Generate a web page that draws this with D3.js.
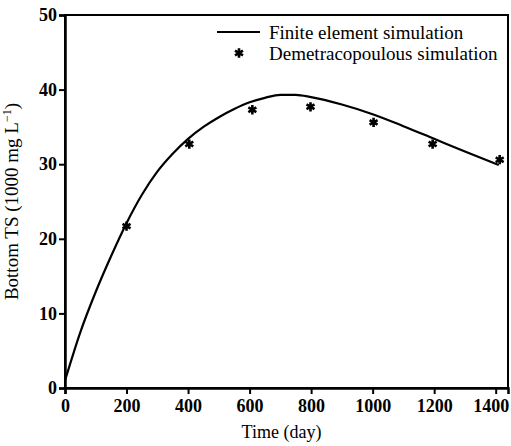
<!DOCTYPE html>
<html>
<head>
<meta charset="utf-8">
<script src="https://cdn.jsdelivr.net/npm/d3@7"></script>
<style>
  body { margin: 0; background: #fff; }
  text { font-family: "Liberation Serif", "Times New Roman", serif; fill: #000; }
</style>
</head>
<body>
<svg id="chart"></svg>
<script>
// Finite element curve (day, TS)
const feDays = [0, 50, 100, 150, 200, 250, 300, 350, 400, 450, 500, 550, 600, 650, 700, 750, 800, 900, 1000, 1100, 1200, 1300, 1410];
const feValues = [1.0, 7.5, 12.9, 17.7, 22.1, 25.9, 29.0, 31.4, 33.4, 35.0, 36.3, 37.4, 38.3, 38.9, 39.3, 39.3, 39.0, 38.0, 36.7, 35.1, 33.4, 31.7, 29.9];

// Demetracopoulous points
const demDays = [200, 404, 609, 798, 1003, 1195, 1413];
const demValues = [21.7, 32.7, 37.3, 37.7, 35.6, 32.7, 30.6];

const xTicks = [0, 200, 400, 600, 800, 1000, 1200, 1400];
const yTicks = [0, 10, 20, 30, 40, 50];

const W = 511, H = 446;
let margin = {top: 15, right: 3, bottom: 58, left: 65},
    width = W - margin.left - margin.right,
    height = H - margin.top - margin.bottom;

let svg = d3.select("#chart")
    .attr("width", W)
    .attr("height", H)
  .append("g")
    .attr("transform", "translate(" + margin.left + "," + margin.top + ")");

let x = d3.scaleLinear().domain([0, 1440]).range([0, width]);
let y = d3.scaleLinear().domain([0, 50]).range([height, 0]);

// frame
svg.append("rect")
    .attr("width", width).attr("height", height)
    .attr("fill", "none").attr("stroke", "#000").attr("stroke-width", 2);

// x axis
let xAxis = svg.append("g")
    .attr("transform", "translate(0," + height + ")")
    .call(d3.axisBottom(x).tickValues(xTicks).tickFormat(d3.format("d")).tickSize(6).tickPadding(5));
// y axis
let yAxis = svg.append("g")
    .call(d3.axisLeft(y).tickValues(yTicks).tickFormat(d3.format("d")).tickSize(6).tickPadding(2));

[xAxis, yAxis].forEach(function(a) {
  a.select(".domain").attr("stroke-width", 2.5);
  a.selectAll(".tick line").attr("stroke-width", 2);
  a.selectAll(".tick text")
    .style("font-family", "'Liberation Serif', serif")
    .style("font-size", "18px")
    .style("font-weight", "bold");
});
// keep the last label inside the picture
xAxis.selectAll(".tick text").filter(function(d) { return d === 1400; })
    .attr("dx", "-5");

// curve
let fe = feDays.map(function(d, i) { return {day: d, v: feValues[i]}; });
let line = d3.line()
    .x(function(d) { return x(d.day); })
    .y(function(d) { return y(d.v); })
    .curve(d3.curveMonotoneX);

svg.append("path")
    .datum(fe)
    .attr("d", line)
    .attr("fill", "none")
    .attr("stroke", "#000")
    .attr("stroke-width", 2.2);

// points
let star = d3.symbol().type(d3.symbolAsterisk).size(60);
svg.selectAll(".pt")
    .data(demDays.map(function(d, i) { return {day: d, v: demValues[i]}; }))
  .enter().append("path")
    .attr("class", "pt")
    .attr("transform", function(d) { return "translate(" + x(d.day) + "," + y(d.v) + ")"; })
    .attr("d", star)
    .attr("fill", "none")
    .attr("stroke", "#000")
    .attr("stroke-width", 2.6);

// legend
let lg = svg.append("g").attr("transform", "translate(152,17)");
lg.append("line").attr("x1", 0).attr("x2", 43).attr("y1", 0).attr("y2", 0)
    .attr("stroke", "#000").attr("stroke-width", 2.2);
lg.append("text").attr("x", 52).attr("y", 0).attr("dy", "0.35em")
    .style("font-size", "19px").text("Finite element simulation");
lg.append("path").attr("transform", "translate(22,21)").attr("d", star)
    .attr("fill", "none").attr("stroke", "#000").attr("stroke-width", 2.6);
lg.append("text").attr("x", 52).attr("y", 21).attr("dy", "0.35em")
    .style("font-size", "19px").text("Demetracopoulous simulation");

// axis titles
svg.append("text")
    .attr("x", width / 2 - 5).attr("y", height + 50)
    .attr("text-anchor", "middle")
    .style("font-size", "18px")
    .text("Time (day)");

let yt = svg.append("text")
    .attr("transform", "translate(-47," + (height / 2) + ") rotate(-90)")
    .attr("text-anchor", "middle")
    .style("font-size", "19px");
yt.append("tspan").text("Bottom TS (1000 mg L");
yt.append("tspan").attr("baseline-shift", "super").style("font-size", "12px").text("\u22121");
yt.append("tspan").text(")");
</script>
</body>
</html>
